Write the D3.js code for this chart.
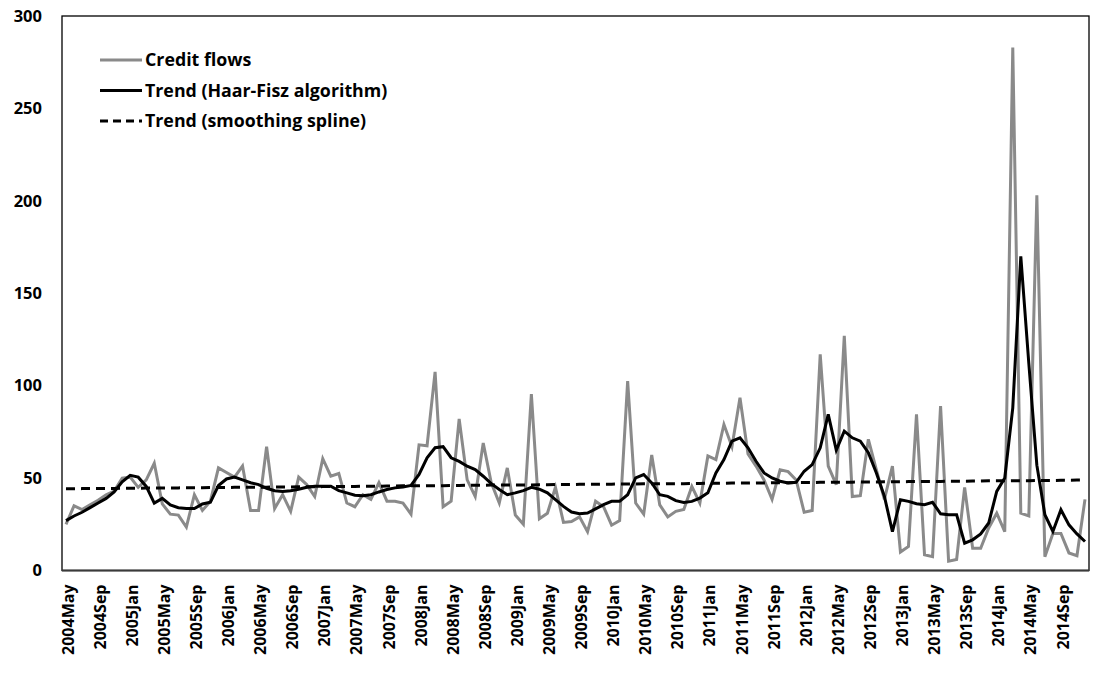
<!DOCTYPE html>
<html><head><meta charset="utf-8">
<script src="https://cdn.jsdelivr.net/npm/d3@7"></script>
<style>body{margin:0;background:#fff}svg text{font-family:"Open Sans",Lato,sans-serif;font-weight:bold;fill:#000}</style>
</head><body><svg id="c" width="1095" height="677"></svg>
<script>
const startYear = 2004, startMonth = 4; // May (0-based)
const monthNames = ["Jan","Feb","Mar","Apr","May","Jun","Jul","Aug","Sep","Oct","Nov","Dec"];
const creditFlows = [25,35,33,35.5,38,41,43,50,50.5,45,49,58,36,30.5,30,23.5,41,32.5,37.5,55.5,
53,50.5,56.5,32.5,32.5,67,33.5,41,32,50.5,46.5,40,60.5,51,52.5,36.5,34.5,41,38.5,47.5,
37.5,37.5,36.5,30.5,68,67.5,107.5,34.5,37.5,82,49,40,69,47.5,36.5,55.5,30,25,95.5,28,
31,45,26,26.5,29,21,37.5,34.5,24.5,27,102.5,36.5,30.5,62.5,35.5,29,32,33,45.5,36.5,
62,60,79,67,93.5,63,56.5,49,38.5,54.5,53.5,49,31.5,32.5,117,56.5,46.5,127,40,40.5,
71,54.5,38.5,56.5,10,13,84.5,8.5,7.5,89,5,6,45,12,12,23,31,21,283,31,
29.5,203,7.5,20,20,9.5,8,38.5];
const trendHaarFisz = [27,29.5,31.5,34,36.5,39,42.5,48,51.5,50.5,45.5,36.5,39,35.5,34,33.5,33.5,36,37,46,
49.5,50.5,49,47.5,46.5,44.5,43.2,42.8,43.2,44,45,45.6,45.6,45.6,43.2,42,40.7,40.4,41,42.5,
43.8,44.7,45.2,46,52,61,66.4,67,61,59,56.4,54.6,51,47,43.8,41,42,43.2,45,44,
42,38.3,34.7,31.6,30.7,31.1,33.3,35.6,37.4,37.4,41,50.1,51.9,47.4,41,40.1,37.8,36.8,37.4,39.2,
42,52.8,60,70,71.8,66.4,59.1,52.8,50.1,48.3,47.4,47.7,53.7,57.3,66.4,84.5,65.1,75.4,71.8,70,
63.7,52.8,40.1,21,38.3,37.4,36.1,35.6,36.9,30.7,30.2,30.2,14.8,16.6,19.8,25.7,42.8,50.1,88,170,
112,57,30.2,21.1,32.9,24.7,19.8,15.7];
const trendSpline = [44.2,44.2,44.3,44.3,44.3,44.4,44.4,44.5,44.5,44.5,44.6,44.6,44.6,44.7,44.7,44.8,44.8,44.8,44.9,44.9,
44.9,45.0,45.0,45.1,45.1,45.1,45.2,45.2,45.2,45.3,45.3,45.3,45.4,45.4,45.5,45.5,45.5,45.6,45.6,45.6,
45.7,45.7,45.8,45.8,45.8,45.9,45.9,45.9,46.0,46.0,46.1,46.1,46.1,46.2,46.2,46.2,46.3,46.3,46.3,46.4,
46.4,46.5,46.5,46.5,46.6,46.6,46.6,46.7,46.7,46.8,46.8,46.8,46.9,46.9,46.9,47.0,47.0,47.0,47.1,47.1,
47.2,47.2,47.2,47.3,47.3,47.3,47.4,47.4,47.5,47.5,47.5,47.6,47.6,47.6,47.7,47.7,47.8,47.8,47.8,47.9,
47.9,47.9,48.0,48.0,48.0,48.1,48.1,48.2,48.2,48.2,48.3,48.3,48.3,48.4,48.4,48.5,48.5,48.5,48.6,48.6,
48.6,48.7,48.7,48.7,48.8,48.8,48.9,48.9];
const tickLabels = ["2004May","2004Sep","2005Jan","2005May","2005Sep","2006Jan","2006May","2006Sep",
"2007Jan","2007May","2007Sep","2008Jan","2008May","2008Sep","2009Jan","2009May","2009Sep",
"2010Jan","2010May","2010Sep","2011Jan","2011May","2011Sep","2012Jan","2012May","2012Sep",
"2013Jan","2013May","2013Sep","2014Jan","2014May","2014Sep"];
const yTicks = [0,50,100,150,200,250,300];
const legendLabels = ["Credit flows","Trend (Haar-Fisz algorithm)","Trend (smoothing spline)"];

const categories = creditFlows.map((d,i)=>{
  const m = startMonth + i;
  return (startYear + Math.floor(m/12)) + monthNames[m%12];
});

const svg = d3.select("#c");
const L = 62, R = 1089, T = 16, B = 570.5;
const x = d3.scaleBand().domain(categories).range([L, R]);
const y = d3.scaleLinear().domain([0,300]).range([B, T]);
const cx = d => x(d) + x.bandwidth()/2;

// y labels
const yAxis = d3.axisLeft(y).tickValues(yTicks).tickSize(0).tickPadding(20);
const gy = svg.append("g").attr("transform",`translate(${L},0)`).call(yAxis);
gy.select(".domain").remove();
gy.selectAll("text").style("font-size","16.5px").attr("fill","#000");

// x labels
const xAxis = d3.axisBottom(x).tickValues(tickLabels).tickSize(0);
const gx = svg.append("g").attr("transform",`translate(0,${B})`).call(xAxis);
gx.select(".domain").remove();
gx.selectAll("text").style("font-size","16px").attr("fill","#000")
  .attr("text-anchor","end").attr("transform","rotate(-90)")
  .attr("x",-14).attr("y",2).attr("dy","0.35em");

// frame
svg.append("rect").attr("x",L).attr("y",T).attr("width",R-L).attr("height",B-T)
  .attr("fill","none").attr("stroke","#000").attr("stroke-width",1.3);
svg.append("line").attr("x1",L).attr("x2",R).attr("y1",B).attr("y2",B)
  .attr("stroke","#3a3a3a").attr("stroke-width",2.2);

const line = d3.line().x((d,i)=>cx(categories[i])).y(d=>y(d));
svg.append("path").datum(creditFlows).attr("d",line).attr("fill","none")
  .attr("stroke","#8a8a8a").attr("stroke-width",3).attr("stroke-linejoin","miter");
svg.append("path").datum(trendSpline).attr("d",line).attr("fill","none")
  .attr("stroke","#000").attr("stroke-width",3).attr("stroke-dasharray","9,6");
svg.append("path").datum(trendHaarFisz).attr("d",line).attr("fill","none")
  .attr("stroke","#000").attr("stroke-width",3);

// legend
const styles = [{c:"#8a8a8a",d:null},{c:"#000",d:null},{c:"#000",d:"8,5"}];
legendLabels.forEach((t,i)=>{
  const yy = 60 + i*30.5;
  svg.append("line").attr("x1",100).attr("x2",142).attr("y1",yy).attr("y2",yy)
    .attr("stroke",styles[i].c).attr("stroke-width",3).attr("stroke-dasharray",styles[i].d);
  svg.append("text").attr("x",145).attr("y",yy).attr("dy","0.35em")
    .style("font-size","17.8px").text(t);
});
</script></body></html>
